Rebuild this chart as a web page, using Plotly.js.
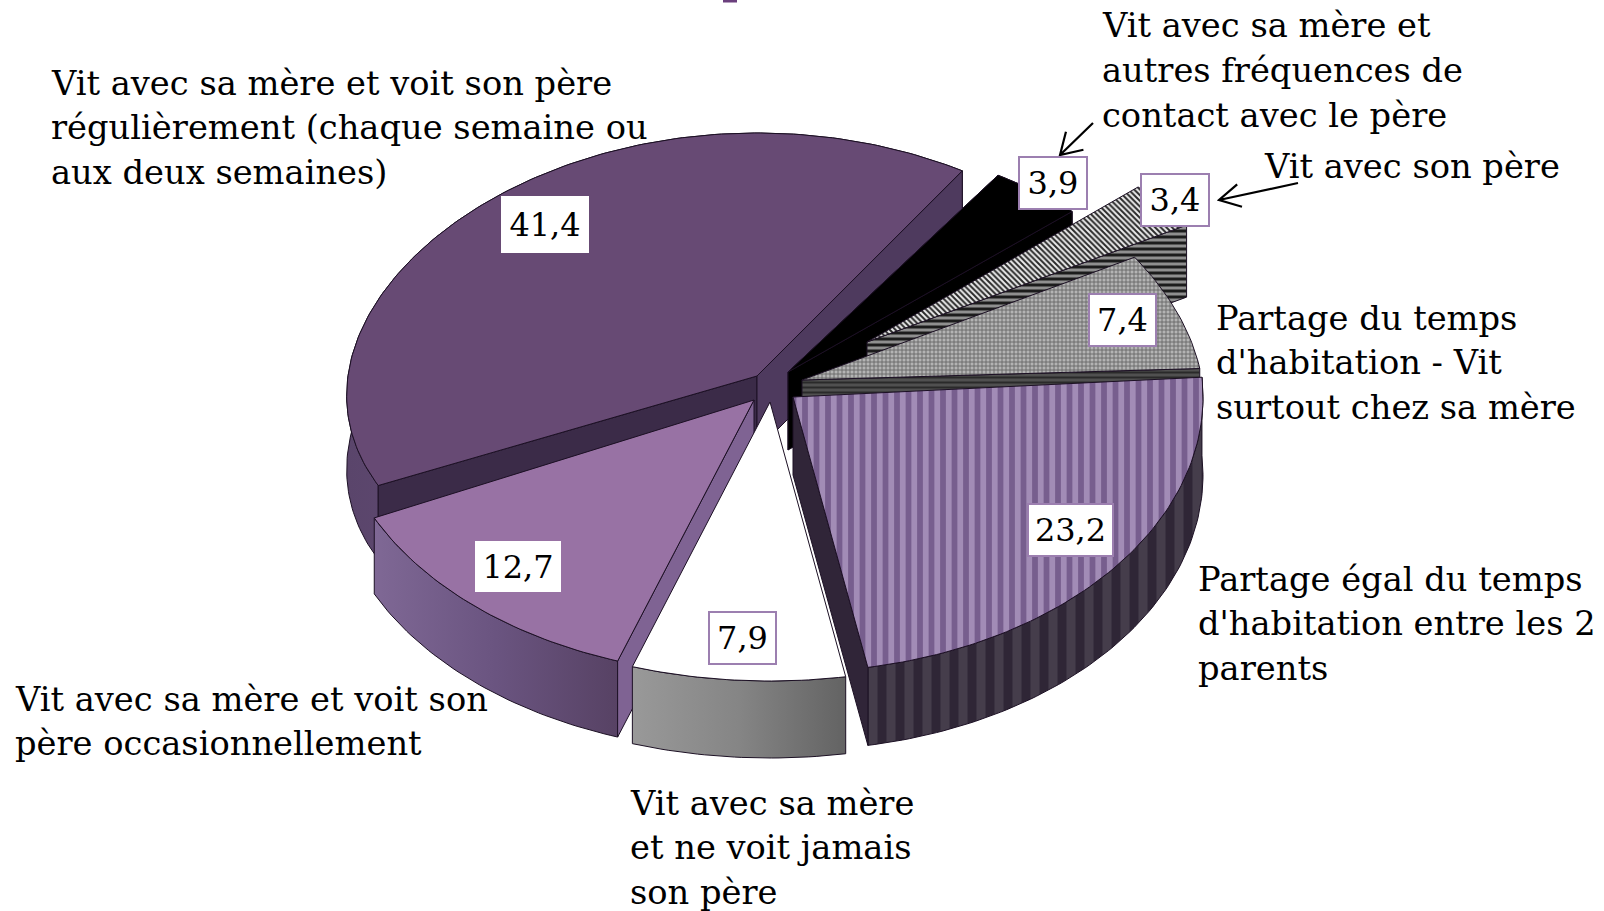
<!DOCTYPE html>
<html><head><meta charset="utf-8">
<script src="https://cdn.plot.ly/plotly-3.0.1.min.js"></script>
<style>html,body{margin:0;padding:0;background:#fff}</style></head>
<body><div id="chart" style="width:1604px;height:911px"></div>
<script>
// ---- data (clockwise from the top of the pie) ----
const categories = [
  "Vit avec sa mère et autres fréquences de contact avec le père",
  "Vit avec son père",
  "Partage du temps d'habitation - Vit surtout chez sa mère",
  "Partage égal du temps d'habitation entre les 2 parents",
  "Vit avec sa mère et ne voit jamais son père",
  "Vit avec sa mère et voit son père occasionnellement",
  "Vit avec sa mère et voit son père régulièrement (chaque semaine ou aux deux semaines)"
];
const values = [3.9, 3.4, 7.4, 23.2, 7.9, 12.7, 41.4];
const valueLabels = ["3,9", "3,4", "7,4", "23,2", "7,9", "12,7", "41,4"];
const labelLines = [
  ["Vit avec sa mère et", "autres fréquences de", "contact avec le père"],
  ["Vit avec son père"],
  ["Partage du temps", "d'habitation - Vit", "surtout chez sa mère"],
  ["Partage égal du temps", "d'habitation entre les 2", "parents"],
  ["Vit avec sa mère", "et ne voit jamais", "son père"],
  ["Vit avec sa mère et voit son", "père occasionnellement"],
  ["Vit avec sa mère et voit son père", "régulièrement (chaque semaine ou", "aux deux semaines)"]
];

// ---- drawing geometry of the tilted, exploded pie ----
const startAngle = 32.4;
const INK = "#1c1024";
const geom = [
  {ax:788, ay:372, rx:392, ry:233, d:78},
  {ax:867, ay:342, rx:374, ry:225, d:72},
  {ax:802, ay:380, rx:400, ry:251, d:40, p:0.1, rot:2},
  {ax:793, ay:397, rx:410, ry:275, d:78, rot:0.5},
  {ax:770, ay:402, rx:435, ry:279, d:77, rot:1},
  {ax:754, ay:400, rx:420, ry:276, d:76, rot:1.5},
  {ax:757, ay:376, rx:409, ry:243, d:74, p:0.08}
];
const solid = c => ({fillcolor:c});
const grad = (a,b,c) => ({fillgradient:{type:"horizontal",colorscale:[[0,a],[0.5,b],[1,c]]}});
const patt = (shape,fg,bg,size,sol) => ({fillcolor:bg,fillpattern:{shape:shape,fgcolor:fg,bgcolor:bg,size:size,solidity:sol}});
const styles = [
  {top:solid("#000000"), end:solid("#000000"), start:solid("#000000"), outer:solid("#000000")},
  {top:patt("\\","#2a2a2a","#ececec",4,0.5), end:patt("-","#1c1c1c","#8f8f8f",6,0.5)},
  {top:patt("+","#666666","#b4b4b4",4,0.4), end:patt("-","#2a2a2a","#505050",5,0.4)},
  {top:patt("|","#a28cb6","#775e8e",11.5,0.5), end:solid("#302538"), outer:patt("|","#453d4b","#2f2636",18,0.5)},
  {top:solid("#ffffff"), outer:grad("#999999","#858585","#636363")},
  {top:solid("#9872a4"), start:solid("#7f6393"), outer:grad("#7f6895","#6a5480","#574264")},
  {top:solid("#674a74"), end:solid("#4e3a5e"), start:solid("#3b2b48"), outer:grad("#5a456b","#6a5080","#5a456b")}
];

// ---- build marks from the values ----
const total = values.reduce((a,b)=>a+b,0);
let acc = startAngle;
const spans = values.map(v => { const s=[acc, acc+v/total*360]; acc=s[1]; return s; });
function pt(g,deg){
  const t=deg*Math.PI/180, u=Math.sin(t), v=Math.cos(t), w=1+(g.p||0)*v;
  return [g.ax+g.rx*u/w, g.ay-g.ry*v];
}
function arc(g,a,b){ const o=[]; const n=Math.max(2,Math.ceil(Math.abs(b-a))); for(let i=0;i<=n;i++) o.push(pt(g,a+(b-a)*i/n)); return o; }
function poly(name,pts,st){
  const xs=pts.map(p=>p[0]).concat(pts[0][0]), ys=pts.map(p=>p[1]).concat(pts[0][1]);
  return Object.assign({type:"scatter",mode:"lines",x:xs,y:ys,fill:"toself",name:name,hoverinfo:"skip",
    line:{color:INK,width:1},showlegend:false},st);
}
function slice(i){
  const g=geom[i], st=styles[i], r=g.rot||0, a=spans[i][0]+r, b=spans[i][1]+r, name=categories[i], out=[];
  const ap=[g.ax,g.ay], apD=[g.ax,g.ay+g.d], ar=arc(g,a,b);
  const dn=p=>[p[0],p[1]+g.d];
  if(st.outer) out.push(poly(name,ar.concat(ar.slice().reverse().map(dn)),st.outer));
  if(st.start) out.push(poly(name,[ap,ar[0],dn(ar[0]),apD],st.start));
  if(st.end)   { const e=ar[ar.length-1]; out.push(poly(name,[ap,e,dn(e),apD],st.end)); }
  out.push(poly(name,[ap].concat(ar),st.top));
  return out;
}
// paint back-to-front
const paintOrder=[6,0,1,2,3,5,4];
const traces=[];
paintOrder.forEach(i=>traces.push(...slice(i)));

// ---- text ----
const FONT="'DejaVu Serif', serif";
const textSize=33.7, lineGap=44.8;
const textAnchors=[[1100,25.5],[1262,166],[1214,318],[1196,579],[628,803],[13,699],[49,83]];
const boxCentres=[[1053,183],[1175,200],[1122,320],[1070,530],[742,638],[518,566],[545,224]];
const boxSizes=[[66,50],[66,50],[65,50],[83,50],[65,50],[82,47],[84,53]];
const annotations=[];
labelLines.forEach((lines,i)=>lines.forEach((t,k)=>annotations.push({
  xref:"x",yref:"y",x:textAnchors[i][0],y:textAnchors[i][1]+k*lineGap,xanchor:"left",yanchor:"middle",
  text:t,showarrow:false,align:"left",font:{family:FONT,size:textSize,color:"#000"}})));
valueLabels.forEach((t,i)=>annotations.push({
  xref:"x",yref:"y",x:boxCentres[i][0],y:boxCentres[i][1],xanchor:"center",yanchor:"middle",
  text:t,showarrow:false,width:boxSizes[i][0],height:boxSizes[i][1],align:"center",valign:"middle",
  bgcolor:"#fff",bordercolor:i===5||i===6?"#fff":"#9c7fb0",borderwidth:2,borderpad:0,
  font:{family:FONT,size:32,color:"#000"}}));

// open-headed leader arrows
function arrow(x0,y0,x1,y1,len,w){
  const t=Math.atan2(y1-y0,x1-x0), h=[];
  [w,-w].forEach(s=>h.push([x1-len*Math.cos(t+s),y1-len*Math.sin(t+s)]));
  return {type:"path",xref:"x",yref:"y",line:{color:"#000",width:2.2},
    path:`M${x0},${y0}L${x1},${y1}M${h[0][0]},${h[0][1]}L${x1},${y1}L${h[1][0]},${h[1][1]}`};
}
const shapes=[
  arrow(1093,123,1060,155,24,0.55),
  arrow(1298,183,1219,200,24,0.5),
  {type:"rect",xref:"x",yref:"y",x0:723,x1:737,y0:0,y1:2.5,fillcolor:"#6b3f7d",line:{width:0}}
];

Plotly.newPlot("chart",traces,{
  width:1604,height:911,margin:{l:0,r:0,t:0,b:0},paper_bgcolor:"#fff",plot_bgcolor:"#fff",showlegend:false,
  xaxis:{range:[0,1604],visible:false,fixedrange:true},
  yaxis:{range:[911,0],visible:false,fixedrange:true},
  annotations:annotations,shapes:shapes,hovermode:false
},{displayModeBar:false,staticPlot:true});
</script></body></html>
